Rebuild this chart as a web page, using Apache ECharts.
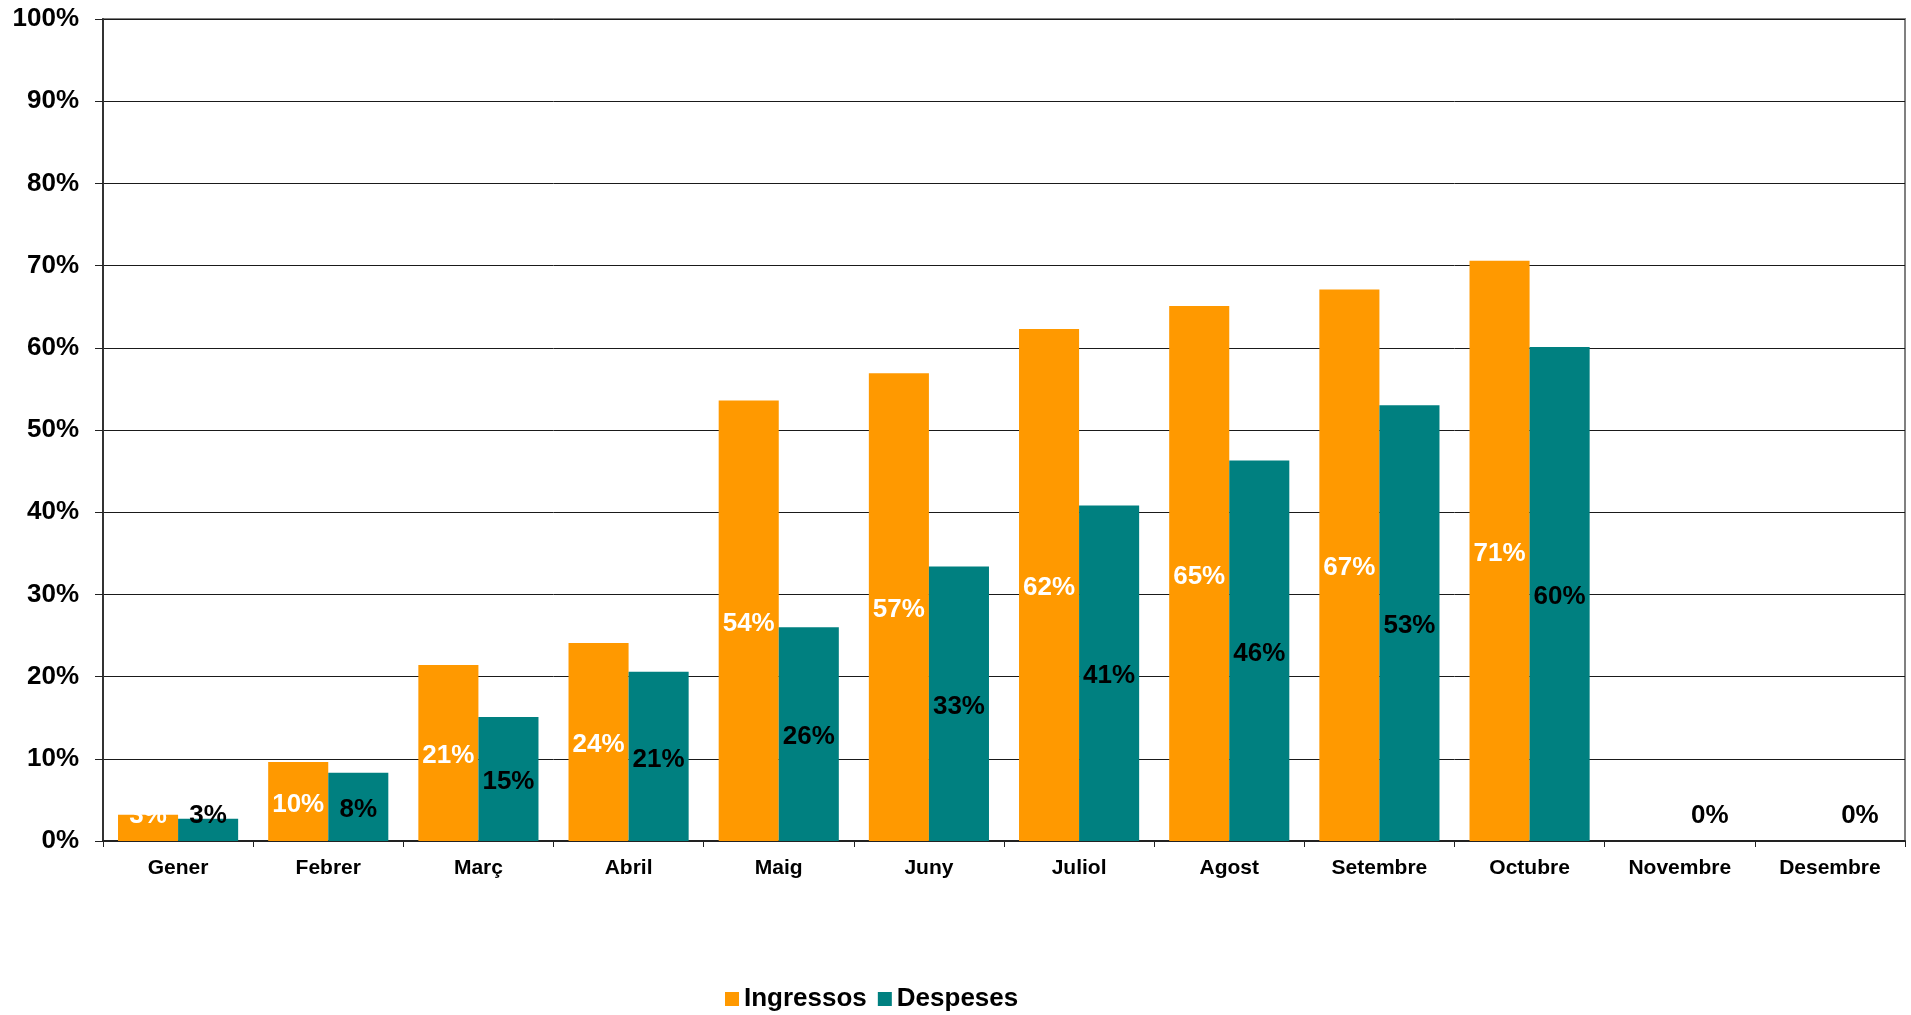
<!DOCTYPE html>
<html>
<head>
<meta charset="utf-8">
<style>
html,body{margin:0;padding:0;background:#fff;}
#chart{width:1911px;height:1015px;}
</style>
<script src="https://cdn.jsdelivr.net/npm/echarts@6/dist/echarts.min.js"></script>
</head>
<body>
<div id="chart"></div>
<script>
const categories = ['Gener','Febrer','Març','Abril','Maig','Juny','Juliol','Agost','Setembre','Octubre','Novembre','Desembre'];
const ingressos = [3.2, 9.6, 21.4, 24.1, 53.6, 56.9, 62.3, 65.1, 67.1, 70.6, 0, 0];
const despeses = [2.7, 8.3, 15.1, 20.6, 26.0, 33.4, 40.8, 46.3, 53.0, 60.1, 0, 0];
const seriesNames = ['Ingressos','Despeses'];

const FONT = '"Liberation Sans", Arial, sans-serif';
const gridTop = 19, gridBottom = 174;
const axisY = 1015 - gridBottom;

const chart = echarts.init(document.getElementById('chart'));

function keepAboveAxis(params) {
  const r = params.labelRect;
  const limit = axisY - 12;
  const bottom = r.y + r.height;
  if (bottom > limit) return { dy: limit - bottom };
  return { dy: 3 };
}

const labelBase = {
  show: true,
  position: 'inside',
  fontFamily: FONT,
  fontWeight: 'bold',
  fontSize: 26,
  formatter: p => Math.round(p.value) + '%'
};

chart.setOption({
  animation: false,
  backgroundColor: '#fff',
  textStyle: { fontFamily: FONT },
  grid: {
    left: 103, right: 6, top: gridTop, bottom: gridBottom,
    show: true, borderColor: '#808080', borderWidth: 2, backgroundColor: 'transparent'
  },
  legend: {
    data: seriesNames,
    left: 720, top: 981,
    itemWidth: 14, itemHeight: 14, itemGap: 11,
    icon: 'rect',
    textStyle: { fontFamily: FONT, fontWeight: 'bold', fontSize: 26, color: '#000' }
  },
  xAxis: {
    type: 'category',
    data: categories,
    axisLine: { lineStyle: { color: '#222', width: 2 } },
    axisTick: { show: true, length: 6, lineStyle: { color: '#222', width: 1 } },
    axisLabel: { fontFamily: FONT, fontWeight: 'bold', fontSize: 21, color: '#000', margin: 17 },
    splitLine: { show: false }
  },
  yAxis: {
    type: 'value',
    min: 0, max: 100, interval: 10,
    axisLine: { show: true, lineStyle: { color: '#333', width: 2 } },
    axisTick: { show: true, length: 8, lineStyle: { color: '#222', width: 1 } },
    axisLabel: { fontFamily: FONT, fontWeight: 'bold', fontSize: 26, color: '#000', margin: 24, formatter: '{value}%' },
    splitLine: { show: true, lineStyle: { color: '#1a1a1a', width: 1 } }
  },
  series: [
    {
      name: seriesNames[0], type: 'bar', data: ingressos,
      barGap: '0%', barCategoryGap: '20%',
      itemStyle: { color: '#FF9900' },
      label: Object.assign({}, labelBase, { color: '#fff' }),
      labelLayout: keepAboveAxis
    },
    {
      name: seriesNames[1], type: 'bar', data: despeses,
      barGap: '0%', barCategoryGap: '20%',
      itemStyle: { color: '#008080' },
      label: Object.assign({}, labelBase, { color: '#000' }),
      labelLayout: keepAboveAxis
    }
  ]
});
</script>
</body>
</html>
